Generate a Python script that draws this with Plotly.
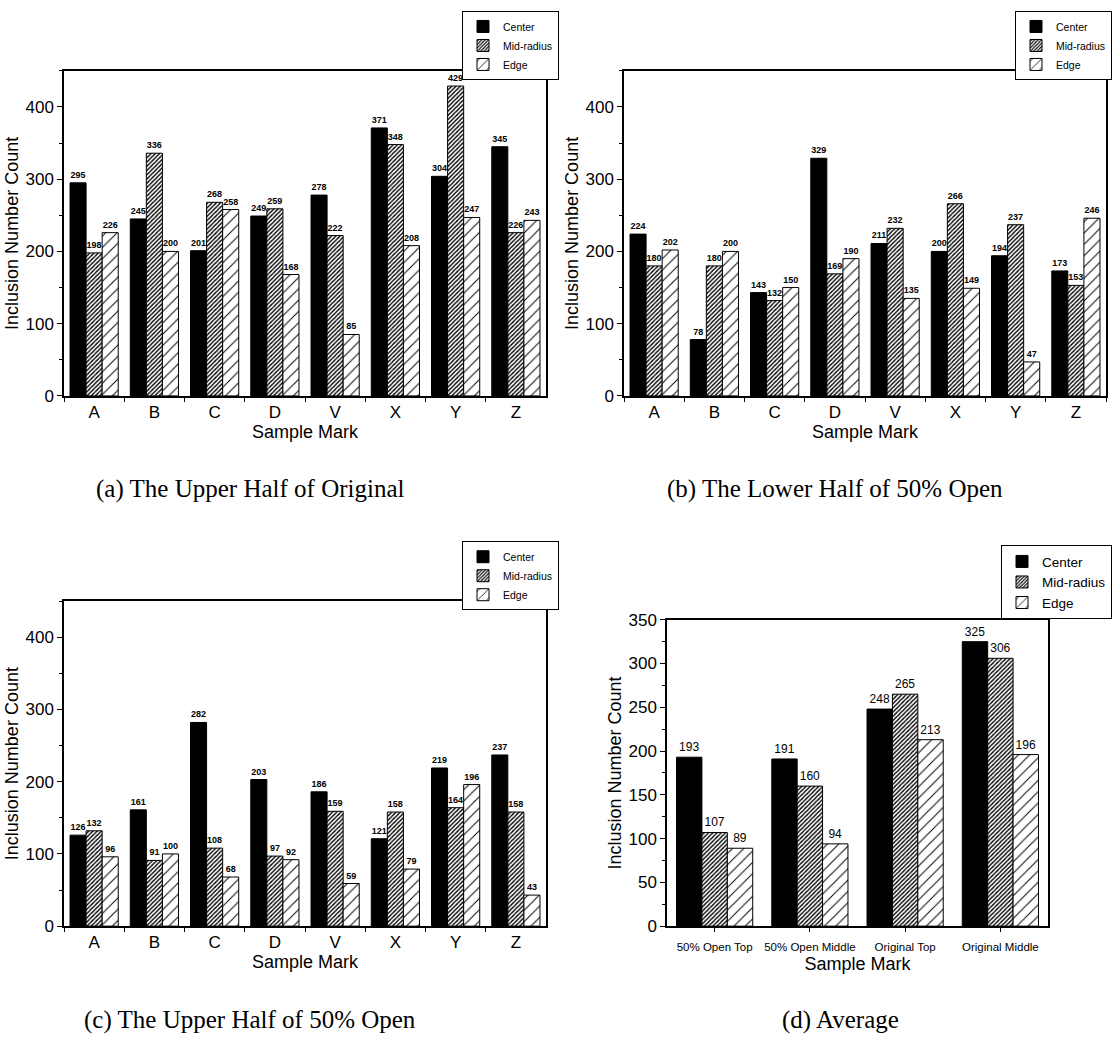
import plotly.graph_objects as go

# ---- data ----
marks = ["A", "B", "C", "D", "V", "X", "Y", "Z"]

upper_original_center = [295, 245, 201, 249, 278, 371, 304, 345]
upper_original_mid = [198, 336, 268, 259, 222, 348, 429, 226]
upper_original_edge = [226, 200, 258, 168, 85, 208, 247, 243]

lower_open_center = [224, 78, 143, 329, 211, 200, 194, 173]
lower_open_mid = [180, 180, 132, 169, 232, 266, 237, 153]
lower_open_edge = [202, 200, 150, 190, 135, 149, 47, 246]

upper_open_center = [126, 161, 282, 203, 186, 121, 219, 237]
upper_open_mid = [132, 91, 108, 97, 159, 158, 164, 158]
upper_open_edge = [96, 100, 68, 92, 59, 79, 196, 43]

avg_groups = ["50% Open Top", "50% Open Middle", "Original Top", "Original Middle"]
avg_center = [193, 191, 248, 325]
avg_mid = [107, 160, 265, 306]
avg_edge = [89, 94, 213, 196]

series_names = ["Center", "Mid-radius", "Edge"]

W, H = 1112, 1053
FONT = "Liberation Sans, Arial, sans-serif"
SERIF = "Liberation Serif, Times New Roman, serif"


def px_x(v):
    return v / W


def px_y(v):
    return 1 - v / H


# fill styles for the three radial positions
def fill_style(i):
    if i == 0:
        return dict(color="black", pattern=dict(shape=""))
    if i == 1:
        return dict(color="white", pattern=dict(shape="/", size=3, solidity=0.45,
                                                 fgcolor="black", bgcolor="white",
                                                 fillmode="replace"))
    return dict(color="white", pattern=dict(shape="/", size=8, solidity=0.12,
                                             fgcolor="black", bgcolor="white",
                                             fillmode="replace"))


fig = go.Figure()

panels = [
    dict(xa="x", ya="y", leg="legend", cats=marks,
         vals=[upper_original_center, upper_original_mid, upper_original_edge],
         small=True),
    dict(xa="x2", ya="y2", leg="legend2", cats=marks,
         vals=[lower_open_center, lower_open_mid, lower_open_edge],
         small=True),
    dict(xa="x3", ya="y3", leg="legend3", cats=marks,
         vals=[upper_open_center, upper_open_mid, upper_open_edge],
         small=True),
    dict(xa="x4", ya="y4", leg="legend4", cats=avg_groups,
         vals=[avg_center, avg_mid, avg_edge],
         small=False),
]

for p in panels:
    for i, (name, v) in enumerate(zip(series_names, p["vals"])):
        st = fill_style(i)
        fig.add_trace(go.Bar(
            x=p["cats"], y=v, name=name,
            xaxis=p["xa"], yaxis=p["ya"], legend=p["leg"],
            marker=dict(color=st["color"], pattern=st["pattern"],
                        line=dict(color="black", width=1)),
            text=[str(t) for t in v],
            textposition="outside",
            constraintext="none",
            cliponaxis=False,
            textfont=dict(family=FONT, size=9 if p["small"] else 12,
                          color="black",
                          weight="bold" if p["small"] else "normal"),
            showlegend=True,
        ))

axis_common = dict(showline=True, linecolor="black", linewidth=1.5, mirror=True,
                   showgrid=False, zeroline=False, ticks="outside",
                   tickcolor="black")

top_y = (px_y(394), px_y(63))
bot_y_c = (px_y(934), px_y(603))
bot_y_d = (px_y(934), px_y(622))
left_x = (px_x(64), px_x(546))
right_x = (px_x(624), px_x(1106))
d_x = (px_x(667), px_x(1048))

ytitle = dict(text="Inclusion Number Count", font=dict(family=FONT, size=18, color="black"), standoff=2)


def xaxis(domain, anchor, boundaries=True, size=17, label_gap=0, title_gap=2):
    d = dict(axis_common)
    d.update(domain=list(domain), anchor=anchor, type="category", ticklen=4,
             tickfont=dict(family=FONT, size=size, color="black"),
             ticklabelstandoff=label_gap,
             title=dict(text="Sample Mark", font=dict(family=FONT, size=18, color="black"),
                        standoff=title_gap))
    if boundaries:
        d["tickson"] = "boundaries"
    return d


def yaxis(domain, anchor, top, major, minor):
    d = dict(axis_common)
    d.update(domain=list(domain), anchor=anchor, range=[0, top], dtick=major,
             ticklen=5, tickfont=dict(family=FONT, size=17, color="black"),
             minor=dict(dtick=minor, ticks="outside", ticklen=3, tickcolor="black"),
             title=ytitle)
    return d


# inward tick marks along the top and right frame edges
def top_ticks(over, anchor, n, step):
    return dict(overlaying=over, side="top", anchor=anchor, range=[-0.5, n - 0.5],
                tickmode="linear", tick0=-0.5 if step == 0.5 else 0, dtick=step,
                ticks="inside", ticklen=3, tickcolor="black", showticklabels=False,
                showline=False, showgrid=False, zeroline=False)


def right_ticks(over, anchor, top, major, minor):
    return dict(overlaying=over, side="right", anchor=anchor, range=[0, top],
                dtick=major, ticks="inside", ticklen=4, tickcolor="black",
                minor=dict(dtick=minor, ticks="inside", ticklen=2, tickcolor="black"),
                showticklabels=False, showline=False, showgrid=False, zeroline=False)


fig.update_layout(
    width=W, height=H,
    margin=dict(l=0, r=0, t=0, b=0),
    paper_bgcolor="white", plot_bgcolor="white",
    barmode="group", bargap=0.2, bargroupgap=0,
    xaxis=xaxis(left_x, "y"),
    yaxis=yaxis(top_y, "x", 450, 100, 50),
    xaxis2=xaxis(right_x, "y2"),
    yaxis2=yaxis(top_y, "x2", 450, 100, 50),
    xaxis3=xaxis(left_x, "y3"),
    yaxis3=yaxis(bot_y_c, "x3", 450, 100, 50),
    xaxis4=xaxis(d_x, "y4", boundaries=False, size=11.5, label_gap=5, title_gap=6),
    yaxis4=yaxis(bot_y_d, "x4", 350, 50, 25),
    xaxis5=top_ticks("x", "y", len(marks), 0.5),
    yaxis5=right_ticks("y", "x", 450, 100, 50),
    xaxis6=top_ticks("x2", "y2", len(marks), 0.5),
    yaxis6=right_ticks("y2", "x2", 450, 100, 50),
    xaxis7=top_ticks("x3", "y3", len(marks), 0.5),
    yaxis7=right_ticks("y3", "x3", 450, 100, 50),
    xaxis8=top_ticks("x4", "y4", len(avg_groups), 1),
    yaxis8=right_ticks("y4", "x4", 350, 50, 25),
)

legend_common = dict(bordercolor="black", borderwidth=1, bgcolor="white",
                     xanchor="right", yanchor="top", tracegroupgap=0,
                     itemclick=False, itemdoubleclick=False)
small_font = dict(family=FONT, size=10.5, color="black")
fig.update_layout(
    legend=dict(legend_common, x=px_x(559), y=px_y(2), font=small_font),
    legend2=dict(legend_common, x=px_x(1112), y=px_y(2), font=small_font),
    legend3=dict(legend_common, x=px_x(559), y=px_y(542), font=small_font),
    legend4=dict(legend_common, x=px_x(1112), y=px_y(546),
                 font=dict(family=FONT, size=13.5, color="black")),
)

# panel captions
captions = [
    ("(a) The Upper Half of Original", 250, 489),
    ("(b) The Lower Half of 50% Open", 835, 489),
    ("(c) The Upper Half of 50% Open", 250, 1030),
    ("(d) Average", 840, 1030),
]
for txt, cx, cy in captions:
    fig.add_annotation(text=txt, x=px_x(cx), y=px_y(cy), xref="paper", yref="paper",
                       showarrow=False, xanchor="center", yanchor="middle",
                       font=dict(family=SERIF, size=25, color="black"))

fig.write_html("out.html")
